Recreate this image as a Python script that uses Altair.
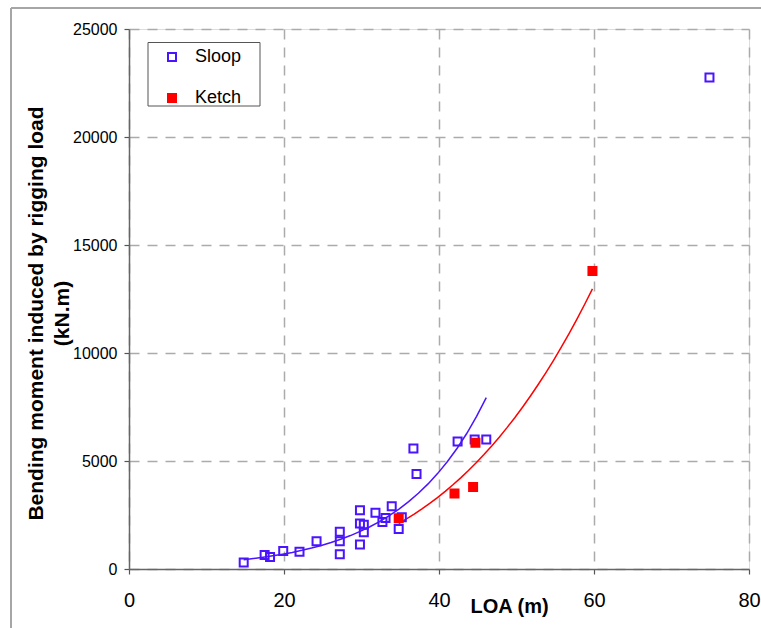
import altair as alt
import pandas as pd

# ---- data ----
series_names = ["Sloop", "Ketch"]
series_colors = ["#4a14ff", "#ff0000"]
series_fills = ["transparent", "#ff0000"]

sloop_loa = [14.8, 17.5, 18.2, 19.9, 22.0, 24.2, 27.2, 27.2, 27.2, 29.8, 29.8, 29.8, 30.3,
             30.3, 31.8, 32.7, 33.1, 33.9, 34.8, 35.2, 36.7, 37.1, 42.4, 44.6, 46.1, 74.9]
sloop_moment = [300, 650, 550, 830, 800, 1290, 1730, 1290, 680, 2720, 2110, 1140, 2050,
                1700, 2600, 2180, 2365, 2900, 1850, 2400, 5580, 4400, 5900, 6000, 6000, 22750]

ketch_loa = [34.8, 42.0, 44.4, 44.7, 59.8]
ketch_moment = [2350, 3500, 3800, 5850, 13800]

x_ticks = [0, 20, 40, 60, 80]
y_ticks = [0, 5000, 10000, 15000, 20000, 25000]

x_title = "LOA (m)"
y_title = ["Bending moment induced by rigging load", "(kN.m)"]

# ---- table ----
df = pd.concat([
    pd.DataFrame({"series": "Sloop", "loa": sloop_loa, "moment": sloop_moment}),
    pd.DataFrame({"series": "Ketch", "loa": ketch_loa, "moment": ketch_moment}),
], ignore_index=True)

FONT = "Liberation Sans"
GRID = dict(grid=True, gridColor="#ababab", gridDash=[10, 8], gridWidth=1.5,
            domainColor="#666666", domainWidth=1.5, tickColor="#555555", tickWidth=1.2,
            tickSize=5, labelColor="black", titleColor="black", labelFont=FONT,
            titleFont=FONT, labelFlush=False)

x_enc = alt.X("loa:Q", scale=alt.Scale(domain=[0, 80], nice=False, zero=False),
              axis=alt.Axis(values=x_ticks, format="d", labelFontSize=20, labelPadding=16,
                            title=x_title, titleFontSize=20, titleFontWeight="bold",
                            titleX=380, titleY=43, titleBaseline="alphabetic",
                            titleAlign="center", **GRID))
y_enc = alt.Y("moment:Q", scale=alt.Scale(domain=[0, 25000], nice=False),
              axis=alt.Axis(values=y_ticks, format="d", labelFontSize=16, labelPadding=7,
                            title=y_title, titleFontSize=21, titleFontWeight="bold",
                            titleAngle=270, titleX=-87, titleY=284,
                            titleBaseline="alphabetic", titleAlign="center",
                            titleLineHeight=26, **GRID))

legend = alt.Legend(title=None, orient="none", legendX=34, legendY=19, padding=0,
                    labelFontSize=18, labelFont=FONT, labelColor="black", labelOffset=14,
                    rowPadding=23, symbolType="square", symbolSize=64, symbolStrokeWidth=2)

base = alt.Chart(df)

points = base.mark_point(shape="square", size=64, strokeWidth=2, opacity=1).encode(
    x=x_enc,
    y=y_enc,
    stroke=alt.Stroke("series:N", scale=alt.Scale(domain=series_names, range=series_colors),
                      legend=legend),
    fill=alt.Fill("series:N", scale=alt.Scale(domain=series_names, range=series_fills),
                  legend=legend),
)

sloop_trend = base.transform_filter(
    "datum.series == 'Sloop' && datum.loa < 60"
).transform_calculate(
    lm="log(datum.moment)"
).transform_regression(
    "loa", "lm", method="poly", order=1
).transform_calculate(
    moment="exp(datum.lm)"
).mark_line(color=series_colors[0], strokeWidth=1.5).encode(x=x_enc, y=y_enc)

ketch_trend = base.transform_filter(
    "datum.series == 'Ketch'"
).transform_regression(
    "loa", "moment", method="pow"
).mark_line(color=series_colors[1], strokeWidth=1.5).encode(x=x_enc, y=y_enc)

deco = alt.Chart(alt.Data(values=[{"k": 1}]))
border_left = deco.mark_rule(color="#a6a6a6", strokeWidth=2).encode(
    x=alt.value(-118), y=alt.value(-21), y2=alt.value(620))
border_top = deco.mark_rule(color="#a6a6a6", strokeWidth=2).encode(
    x=alt.value(-118), x2=alt.value(700), y=alt.value(-21))
legend_box = deco.mark_rect(fill="white", stroke="#555555", strokeWidth=1).encode(
    x=alt.value(19), x2=alt.value(131), y=alt.value(13.5), y2=alt.value(77))

chart = alt.layer(
    border_left, border_top, sloop_trend, ketch_trend, points, legend_box
).properties(
    width=620, height=540,
    autosize=alt.AutoSizeParams(type="none"),
    padding={"left": 129, "top": 29, "right": 12, "bottom": 59},
).configure_view(stroke=None).configure(font=FONT, background="white")

chart.save("out.html", embed_options={"renderer": "svg", "actions": False})
